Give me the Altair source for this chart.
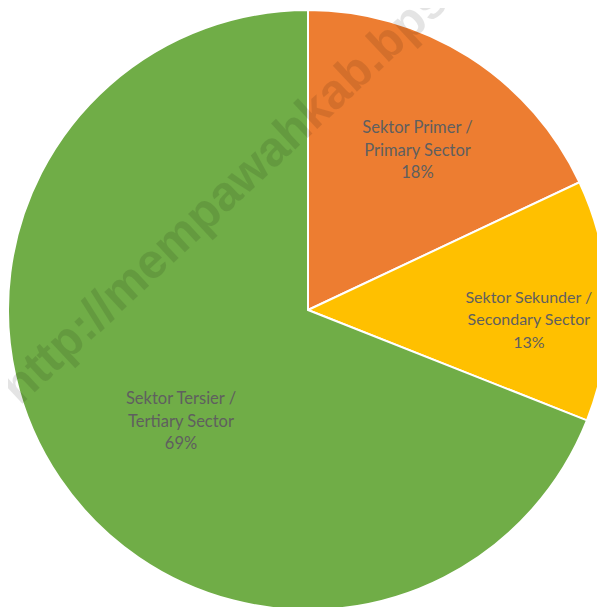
import altair as alt
import pandas as pd

sectors = ["Sektor Primer / Primary Sector", "Sektor Sekunder / Secondary Sector", "Sektor Tersier / Tertiary Sector"]
shares = [18, 13, 69]
label_lines = [
    "Sektor Primer /\nPrimary Sector\n18%",
    "Sektor Sekunder /\nSecondary Sector\n13%",
    "Sektor Tersier /\nTertiary Sector\n69%",
]
colors = ["#ED7D31", "#FFC000", "#70AD47"]
order_idx = [0, 1, 2]

df = pd.DataFrame({"sector": sectors, "share": shares, "label": label_lines, "ord": order_idx})
wm = pd.DataFrame({"t": ["http://mempawahkab.bps.go.id"]})

CX, CY = 300, 302

pie = alt.Chart(df).mark_arc(stroke="white", strokeWidth=2, radius=300).encode(
    theta=alt.Theta("share:Q", stack=True),
    order=alt.Order("ord:Q"),
    color=alt.Color("sector:N", scale=alt.Scale(domain=sectors, range=colors), legend=None),
    x=alt.value(CX), y=alt.value(CY),
)

lab_base = alt.Chart(df).transform_window(
    cum="sum(share)", sort=[alt.SortField("ord")]
).transform_calculate(mid="datum.cum - datum.share / 2")


def lbl(i, r, dx, dy, fs=16.5):
    return lab_base.transform_filter(alt.datum.ord == i).mark_text(
        radius=r, dx=dx, dy=dy, lineBreak="\n", fontSize=fs, lineHeight=22.5,
        font="Lato", color="#5f5f5f", align="center", baseline="middle",
    ).encode(
        theta=alt.Theta("mid:Q", stack=None, scale=alt.Scale(domain=[0, 100])),
        text="label:N", x=alt.value(CX), y=alt.value(CY),
    )

labels = [lbl(0, 195, 5, -17), lbl(1, 224, -3, -5, 16), lbl(2, 168, 12, -5)]

water = alt.Chart(wm).mark_text(
    angle=317, align="left", baseline="alphabetic", fontSize=49, fontWeight="bold",
    font="Liberation Sans", color="#000000", opacity=0.1,
).encode(text="t:N", x=alt.value(12), y=alt.value(398))

chart = alt.layer(pie, *labels, water).resolve_scale(theta="independent").properties(
    width=589, height=599, padding=0, autosize=alt.AutoSizeParams(type="none"), background="white"
).configure_view(stroke=None)

chart.save("out.html", embed_options={"renderer": "svg", "actions": False})
